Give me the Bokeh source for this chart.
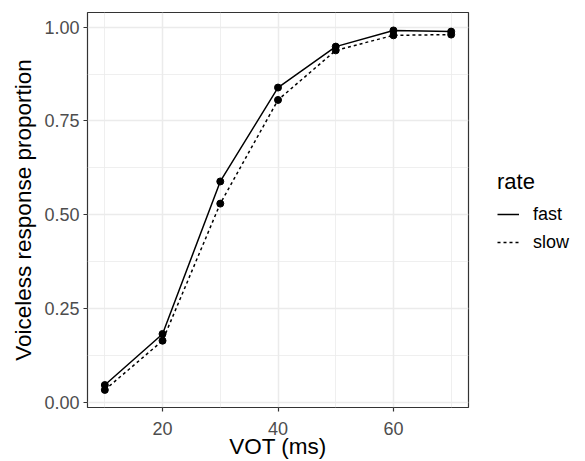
from bokeh.plotting import figure
from bokeh.models import Range1d, FixedTicker, Legend, LegendItem
from bokeh.layouts import row
from bokeh.embed import file_html
from bokeh.resources import INLINE

vot = [10, 20, 30, 40, 50, 60, 70]
fast = [0.047, 0.183, 0.589, 0.839, 0.948, 0.991, 0.988]
slow = [0.034, 0.165, 0.530, 0.806, 0.938, 0.978, 0.980]
x_ticks = [20, 40, 60]
x_minor = [10, 30, 50, 70]
y_ticks = [0.0, 0.25, 0.5, 0.75, 1.0]
y_minor = [0.125, 0.375, 0.625, 0.875]
y_tick_labels = {0.0: "0.00", 0.25: "0.25", 0.5: "0.50", 0.75: "0.75", 1.0: "1.00"}
rate_labels = ["fast", "slow"]

FONT = "Liberation Sans"

p = figure(width=470, height=461, output_backend="svg", toolbar_location=None,
           x_range=Range1d(7, 73), y_range=Range1d(-0.0128, 1.0388),
           min_border_left=87, min_border_right=2, min_border_top=12, min_border_bottom=51)

p.background_fill_color = "white"
p.border_fill_color = "white"
p.outline_line_color = "#333333"
p.outline_line_width = 1.2

p.xaxis.ticker = FixedTicker(ticks=x_ticks, minor_ticks=x_minor)
p.yaxis.ticker = FixedTicker(ticks=y_ticks, minor_ticks=y_minor)
p.yaxis.major_label_overrides = y_tick_labels

for ax in (p.xaxis, p.yaxis):
    ax.axis_line_color = None
    ax.major_tick_line_color = "#333333"
    ax.major_tick_line_width = 1.2
    ax.major_tick_out = 4
    ax.major_tick_in = 0
    ax.minor_tick_line_color = None
    ax.major_label_text_font = FONT
    ax.major_label_text_font_size = "18px"
    ax.major_label_text_color = "#4D4D4D"
    ax.axis_label_text_font = FONT
    ax.axis_label_text_font_size = "22.5px"
    ax.axis_label_text_font_style = "normal"
    ax.axis_label_text_color = "black"

p.xaxis.axis_label = "VOT (ms)"
p.yaxis.axis_label = "Voiceless response proportion"
p.xaxis.major_label_standoff = 10
p.yaxis.major_label_standoff = 4
p.xaxis.axis_label_standoff = -4
p.yaxis.axis_label_standoff = 5

for g in (p.xgrid, p.ygrid):
    g.grid_line_color = "#EBEBEB"
    g.grid_line_width = 1.5
    g.minor_grid_line_color = "#EBEBEB"
    g.minor_grid_line_width = 0.8

p.line(vot, fast, line_color="black", line_width=1.5)
p.line(vot, slow, line_color="black", line_width=1.5, line_dash="3 3")
p.scatter(vot, fast, size=7, color="black")
p.scatter(vot, slow, size=7, color="black")

# legend panel (its ranges keep the key renderers' data out of view)
lf = figure(width=115, height=461, output_backend="svg", toolbar_location=None,
            x_range=Range1d(-2, -1), y_range=Range1d(-2, -1),
            x_axis_type=None, y_axis_type=None, min_border=0)
lf.outline_line_color = None
lf.grid.visible = False
lf.background_fill_color = "white"
lf.border_fill_color = "white"
k_fast = lf.line(vot, fast, line_color="black", line_width=1.5)
k_slow = lf.line(vot, slow, line_color="black", line_width=1.5, line_dash="3 3")

legend = Legend(items=[LegendItem(label=rate_labels[0], renderers=[k_fast]),
                       LegendItem(label=rate_labels[1], renderers=[k_slow])],
                location=(27, 152))
legend.title = "rate"
legend.title_text_font = FONT
legend.title_text_font_size = "22px"
legend.title_text_font_style = "normal"
legend.title_text_color = "black"
legend.title_standoff = 6
legend.label_text_font = FONT
legend.label_text_font_size = "18px"
legend.label_text_color = "black"
legend.glyph_width = 22
legend.glyph_height = 26
legend.label_height = 26
legend.label_standoff = 14
legend.spacing = 2
legend.padding = 0
legend.margin = 0
legend.border_line_color = None
legend.background_fill_alpha = 0
lf.add_layout(legend, "center")

layout = row(p, lf)
open("out.html", "w").write(file_html(layout, INLINE))
